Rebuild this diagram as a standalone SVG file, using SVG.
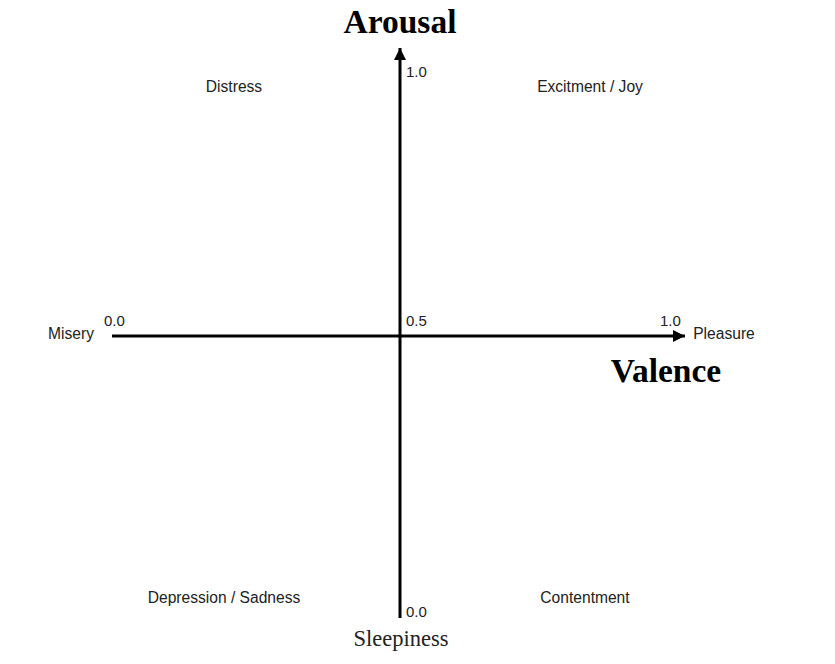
<svg xmlns="http://www.w3.org/2000/svg" width="835" height="664" viewBox="0 0 835 664">
<style>
.lbl{font-family:"Liberation Sans","Open Sans",sans-serif;font-size:15.6px;fill:#222;text-anchor:middle}
.tick{font-family:"Liberation Sans","Open Sans",sans-serif;font-size:15px;fill:#222}
.title{font-family:"Liberation Serif","Times New Roman",serif;font-weight:bold;font-size:33.5px;fill:#000;text-anchor:middle}
.sub{font-family:"Liberation Serif","Times New Roman",serif;font-size:22.5px;fill:#222;text-anchor:middle}
.axis{stroke:#000;stroke-width:3;fill:none}
</style>
<defs>
<marker id="ah" viewBox="0 0 10 10" refX="10" refY="5" markerWidth="4.5" markerHeight="4" orient="auto" markerUnits="strokeWidth">
<path d="M0,0 L10,5 L0,10 Z" fill="#000"/>
</marker>
</defs>
<rect width="835" height="664" fill="#fff"/>
<g id="connectors">
<line class="axis" x1="400" y1="618" x2="400" y2="48" marker-end="url(#ah)"/>
<line class="axis" x1="112" y1="336" x2="685" y2="336" marker-end="url(#ah)"/>
</g>
<g id="axis-titles">
<text class="title" x="400" y="33">Arousal</text>
<text class="title" x="666" y="382">Valence</text>
<text class="sub" x="401" y="646">Sleepiness</text>
</g>
<g id="quadrants">
<text class="lbl" x="234" y="92">Distress</text>
<text class="lbl" x="590" y="92">Excitment / Joy</text>
<text class="lbl" x="224" y="603">Depression / Sadness</text>
<text class="lbl" x="585" y="603">Contentment</text>
</g>
<g id="poles">
<text class="lbl" x="71" y="339">Misery</text>
<text class="lbl" x="724" y="339">Pleasure</text>
</g>
<g id="ticks">
<text class="tick" x="104" y="326">0.0</text>
<text class="tick" x="406" y="326">0.5</text>
<text class="tick" x="660" y="326">1.0</text>
<text class="tick" x="406" y="77">1.0</text>
<text class="tick" x="406" y="617">0.0</text>
</g>
</svg>
